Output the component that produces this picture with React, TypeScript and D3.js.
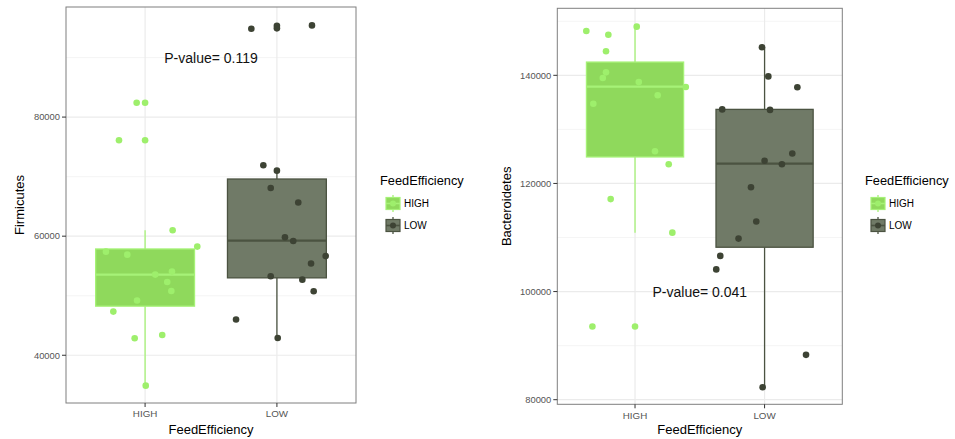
import React from 'react';
import * as d3 from 'd3';

// categories and colours
const groups = ['HIGH', 'LOW'];
const fillColors = ['#8fd95c', '#707a67'];
const strokeColors = ['#a6f277', '#4b5341'];
const pointColors = ['#9eef6c', '#3d4334'];

// Firmicutes: [jitter offset, value]
const firmHigh = [
  [-0.064, 82400], [0.0, 82400], [-0.198, 76100], [0.0, 76100], [0.209, 61000],
  [0.396, 58250], [-0.297, 57400], [-0.135, 56900], [0.204, 54050], [0.077, 53550],
  [0.168, 52300], [0.199, 50800], [-0.061, 49200], [-0.241, 47330], [0.13, 43400],
  [-0.079, 42850], [0.005, 34900],
];
const firmLow = [
  [-0.194, 94840], [0.0, 95350], [0.0, 94900], [0.266, 95400], [-0.103, 71900],
  [0.0, 71000], [-0.047, 68100], [0.162, 65650], [0.061, 59830], [0.124, 59200],
  [0.37, 56650], [0.259, 55400], [-0.047, 53280], [0.193, 52700], [0.279, 50750],
  [-0.31, 46000], [0.006, 42900],
];
// [lower whisker, q1, median, q3, upper whisker]
const firmBoxes = [
  [34900, 48250, 53550, 57850, 61000],
  [42900, 53000, 59250, 69600, 71000],
];
const firmTicks = [40000, 60000, 80000];
const firmMinor = [50000, 70000, 90000];

// Bacteroidetes
const bactHigh = [
  [-0.376, 148200], [0.013, 149000], [-0.206, 147500], [-0.224, 144450], [-0.224, 140550],
  [-0.249, 139500], [0.029, 138750], [0.392, 137850], [0.175, 136300], [-0.322, 134750],
  [0.154, 125950], [0.26, 123550], [-0.188, 117100], [0.288, 110900], [-0.329, 93550],
  [0.0, 93550],
];
const bactLow = [
  [-0.02, 145200], [0.029, 139800], [0.253, 137800], [-0.327, 133700], [0.042, 133600],
  [0.214, 125550], [0.0, 124200], [0.134, 123550], [-0.105, 119300], [-0.064, 112950],
  [-0.201, 109800], [-0.342, 106600], [-0.373, 104100], [0.32, 88300], [-0.015, 82300],
];
const bactBoxes = [
  [110900, 124900, 137900, 142450, 149000],
  [82300, 108200, 123650, 133700, 145200],
];
const bactTicks = [80000, 100000, 120000, 140000];
const bactMinor = [90000, 110000, 130000, 150000];

const font = '"Liberation Sans", Arial, Helvetica, sans-serif';

type PanelProps = {
  left: number; right: number; top: number; bottom: number;
  domain: [number, number];
  ticks: number[]; minor: number[];
  points: number[][][];
  boxes: number[][];
  yTitle: string; yTitleX: number;
  pText: string; pY: number;
  legendX: number;
};

const Panel = (p: PanelProps) => {
  const x = d3.scaleLinear().domain([0.4, 2.6]).range([p.left, p.right]);
  const y = d3.scaleLinear().domain(p.domain).range([p.bottom, p.top]);
  const unit = x(2) - x(1);
  const bw = 0.75 * unit;
  const cy = (p.top + p.bottom) / 2;

  return (
    <g fontFamily={font}>
      <rect x={p.left} y={p.top} width={p.right - p.left} height={p.bottom - p.top} fill="#fff" />
      {p.minor.map(v => (
        <line key={'m' + v} x1={p.left} x2={p.right} y1={y(v)} y2={y(v)} stroke="#f2f2f2" strokeWidth={0.8} />
      ))}
      {p.ticks.map(v => (
        <line key={'g' + v} x1={p.left} x2={p.right} y1={y(v)} y2={y(v)} stroke="#ebebeb" strokeWidth={1.2} />
      ))}
      {groups.map((g, i) => (
        <line key={'gx' + g} x1={x(i + 1)} x2={x(i + 1)} y1={p.top} y2={p.bottom} stroke="#ebebeb" strokeWidth={1.2} />
      ))}
      {p.boxes.map((b, i) => {
        const cx = x(i + 1);
        return (
          <g key={'b' + i}>
            <line x1={cx} x2={cx} y1={y(b[0])} y2={y(b[1])} stroke={strokeColors[i]} strokeWidth={1.3} />
            <line x1={cx} x2={cx} y1={y(b[3])} y2={y(b[4])} stroke={strokeColors[i]} strokeWidth={1.3} />
            <rect x={cx - bw / 2} y={y(b[3])} width={bw} height={y(b[1]) - y(b[3])}
              fill={fillColors[i]} stroke={strokeColors[i]} strokeWidth={1.3} />
            <line x1={cx - bw / 2} x2={cx + bw / 2} y1={y(b[2])} y2={y(b[2])} stroke={strokeColors[i]} strokeWidth={2.2} />
          </g>
        );
      })}
      {p.points.map((pts, i) =>
        pts.map((d, j) => (
          <circle key={'p' + i + '-' + j} cx={x(i + 1 + d[0])} cy={y(d[1])} r={3.3} fill={pointColors[i]} />
        ))
      )}
      <text x={x(1.5)} y={y(p.pY)} dy="0.36em" textAnchor="middle" fontSize={14} fill="#111">{p.pText}</text>
      <rect x={p.left} y={p.top} width={p.right - p.left} height={p.bottom - p.top} fill="none" stroke="#7f7f7f" strokeWidth={1} />
      {p.ticks.map(v => (
        <g key={'t' + v}>
          <line x1={p.left - 4} x2={p.left} y1={y(v)} y2={y(v)} stroke="#333" strokeWidth={1} />
          <text x={p.left - 6} y={y(v)} dy="0.35em" textAnchor="end" fontSize={9.4} fill="#555">{v}</text>
        </g>
      ))}
      {groups.map((g, i) => (
        <g key={'xt' + g}>
          <line x1={x(i + 1)} x2={x(i + 1)} y1={p.bottom} y2={p.bottom + 4} stroke="#333" strokeWidth={1} />
          <text x={x(i + 1)} y={p.bottom + 11} dy="0.35em" textAnchor="middle" fontSize={9.8} fill="#555">{g}</text>
        </g>
      ))}
      <text x={(p.left + p.right) / 2} y={429} dy="0.35em" textAnchor="middle" fontSize={13} fill="#000">FeedEfficiency</text>
      <text transform={`translate(${p.yTitleX},${cy}) rotate(-90)`} dy="0.35em" textAnchor="middle" fontSize={13} fill="#000">{p.yTitle}</text>
      <g transform={`translate(${p.legendX},0)`}>
        <text x={0} y={181} dy="0.35em" fontSize={12.8} fill="#000">FeedEfficiency</text>
        {groups.map((g, i) => {
          const ky = 196 + i * 22;
          return (
            <g key={'lg' + g}>
              <line x1={13} x2={13} y1={ky - 1} y2={ky + 16} stroke={strokeColors[i]} strokeWidth={1.3} />
              <rect x={6} y={ky + 1.5} width={14} height={12} fill={fillColors[i]} stroke={strokeColors[i]} strokeWidth={1.2} />
              <line x1={6} x2={20} y1={ky + 7.5} y2={ky + 7.5} stroke={strokeColors[i]} strokeWidth={1.6} />
              <circle cx={13} cy={ky + 7.5} r={3} fill={pointColors[i]} />
              <text x={24} y={ky + 7.5} dy="0.35em" fontSize={10} fill="#000">{g}</text>
            </g>
          );
        })}
      </g>
    </g>
  );
};

const App = () => (
  <svg width={955} height={439} style={{ position: 'absolute', left: 0, top: 0, background: '#fff' }}>
    <rect width={955} height={439} fill="#fff" />
    <Panel left={66} right={356} top={7} bottom={403} domain={[31983, 98487]}
      ticks={firmTicks} minor={firmMinor} points={[firmHigh, firmLow]} boxes={firmBoxes}
      yTitle="Firmicutes" yTitleX={19} pText="P-value= 0.119" pY={90000} legendX={380} />
    <Panel left={557.3} right={842.3} top={8.3} bottom={404.3} domain={[79149, 152396]}
      ticks={bactTicks} minor={bactMinor} points={[bactHigh, bactLow]} boxes={bactBoxes}
      yTitle="Bacteroidetes" yTitleX={506} pText="P-value= 0.041" pY={100000} legendX={865} />
  </svg>
);

export default App;
